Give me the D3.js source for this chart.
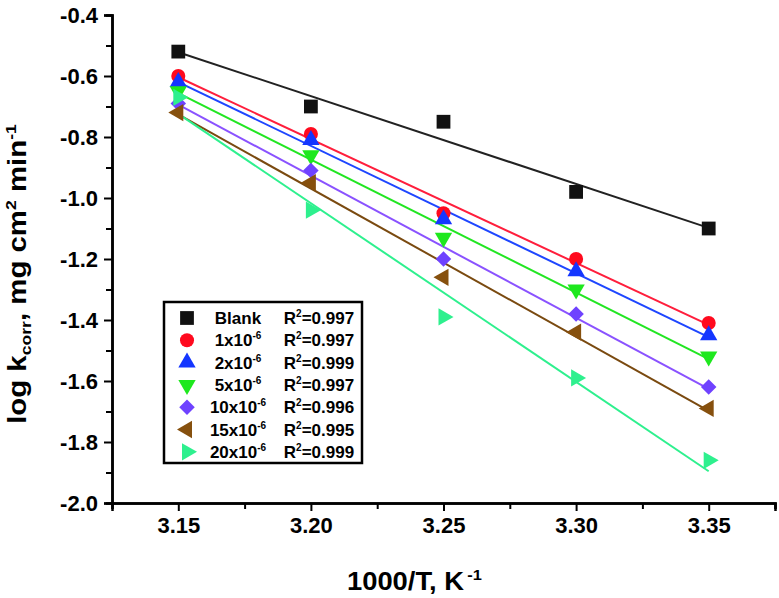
<!DOCTYPE html>
<html>
<head>
<meta charset="utf-8">
<script src="https://cdn.jsdelivr.net/npm/d3@7"></script>
<style>
  html, body { margin: 0; padding: 0; background: #fff; }
  svg { display: block; font-family: "Liberation Sans", Arial, sans-serif; font-weight: bold; }
</style>
</head>
<body>
<svg id="chart" width="779" height="598"></svg>
<script>
// ---- data ----
const xValues = [3.15, 3.20, 3.25, 3.30, 3.35];
const seriesLabels = ["Blank", "1x10", "2x10", "5x10", "10x10", "15x10", "20x10"];
const labelExponents = ["", "-6", "-6", "-6", "-6", "-6", "-6"];
const r2Labels = ["0.997", "0.997", "0.999", "0.997", "0.996", "0.995", "0.999"];
const blank = [-0.52, -0.70, -0.75, -0.98, -1.10];
const c1 = [-0.60, -0.79, -1.05, -1.20, -1.41];
const c2 = [-0.62, -0.81, -1.07, -1.24, -1.45];
const c5 = [-0.65, -0.86, -1.13, -1.30, -1.52];
const c10 = [-0.69, -0.91, -1.20, -1.38, -1.62];
const c15 = [-0.72, -0.95, -1.26, -1.44, -1.69];
const c20 = [-0.67, -1.04, -1.39, -1.59, -1.86];
const xTickValues = [3.15, 3.20, 3.25, 3.30, 3.35];
const yTickValues = [-0.4, -0.6, -0.8, -1.0, -1.2, -1.4, -1.6, -1.8, -2.0];

// ---- styles ----
const colors = ["#111111", "#ff0a1e", "#1436ff", "#1ee81e", "#6f42ff", "#86500e", "#2ef08e"];
const lineColors = ["#222222", "#ff1e3c", "#1e46ff", "#22e622", "#8a52ff", "#7a4a10", "#2ef08e"];
const symbols = [
  {t: d3.symbolSquare, s: 190, r: 0},
  {t: d3.symbolCircle, s: 155, r: 0},
  {t: d3.symbolTriangle, s: 130, r: 0},
  {t: d3.symbolTriangle, s: 130, r: 180},
  {t: d3.symbolSquare, s: 120, r: 45},
  {t: d3.symbolTriangle, s: 130, r: -90},
  {t: d3.symbolTriangle, s: 130, r: 90}
];
const series = [blank, c1, c2, c5, c10, c15, c20];

const svg = d3.select("#chart");
const x = d3.scaleLinear().domain([3.125, 3.375]).range([112, 775]);
const y = d3.scaleLinear().domain([-2.0, -0.4]).range([503, 15]);

// axes
const xAxis = d3.axisBottom(x).tickValues(xTickValues).tickSize(8).tickPadding(6).tickFormat(d => d.toFixed(2));
const xMinor = d3.axisBottom(x).tickValues([3.125, 3.175, 3.225, 3.275, 3.325, 3.375]).tickSize(6).tickFormat("");
const yAxis = d3.axisLeft(y).tickValues(yTickValues).tickSize(8).tickPadding(6).tickFormat(d => d.toFixed(1));
const yMinor = d3.axisLeft(y).tickValues([-0.5, -0.7, -0.9, -1.1, -1.3, -1.5, -1.7, -1.9]).tickSize(6).tickFormat("");

function styleAxis(g) {
  g.select(".domain").attr("stroke", "#000").attr("stroke-width", 2.5);
  g.selectAll(".tick line").attr("stroke", "#000").attr("stroke-width", 2);
  g.selectAll(".tick text").attr("fill", "#000").style("font-size", "22px").style("font-weight", "bold")
    .style("font-family", "'Liberation Sans', Arial, sans-serif");
}
svg.append("g").attr("transform", "translate(0,503)").call(xMinor).call(styleAxis);
svg.append("g").attr("transform", "translate(0,503)").call(xAxis).call(styleAxis);
svg.append("g").attr("transform", "translate(112,0)").call(yMinor).call(styleAxis);
svg.append("g").attr("transform", "translate(112,0)").call(yAxis).call(styleAxis);

// linear fits
function fit(ys) {
  const mx = d3.mean(xValues), my = d3.mean(ys);
  let sxy = 0, sxx = 0;
  xValues.forEach((xv, i) => { sxy += (xv - mx) * (ys[i] - my); sxx += (xv - mx) * (xv - mx); });
  const b = sxy / sxx, a = my - b * mx;
  return xv => a + b * xv;
}
const line = d3.line().x(d => x(d[0])).y(d => y(d[1]));
series.forEach((ys, i) => {
  const f = fit(ys);
  const x0 = xValues[0], x1 = xValues[xValues.length - 1];
  svg.append("path").attr("d", line([[x0, f(x0)], [x1, f(x1)]]))
    .attr("fill", "none").attr("stroke", lineColors[i]).attr("stroke-width", 2);
});

// markers
series.forEach((ys, i) => {
  const sym = d3.symbol().type(symbols[i].t).size(symbols[i].s);
  svg.append("g").selectAll("path").data(ys).join("path")
    .attr("d", sym)
    .attr("transform", (d, j) => `translate(${x(xValues[j])},${y(d)}) rotate(${symbols[i].r})`)
    .attr("fill", colors[i]);
});

// legend
const leg = svg.append("g");
leg.append("rect").attr("x", 164).attr("y", 302).attr("width", 198).attr("height", 161)
  .attr("fill", "#fff").attr("stroke", "#000").attr("stroke-width", 2.5);
seriesLabels.forEach((lab, i) => {
  const cy = 318 + i * 22.3;
  const sym = d3.symbol().type(symbols[i].t).size(symbols[i].s);
  leg.append("path").attr("d", sym).attr("transform", `translate(187,${cy}) rotate(${symbols[i].r})`).attr("fill", colors[i]);
  const t = leg.append("text").attr("x", 238).attr("y", cy + 6).attr("text-anchor", "middle")
    .style("font-size", "17px").attr("fill", "#000");
  t.append("tspan").text(lab);
  if (labelExponents[i]) t.append("tspan").attr("dy", -7).style("font-size", "10px").text(labelExponents[i]);
  const r = leg.append("text").attr("x", 319).attr("y", cy + 6).attr("text-anchor", "middle")
    .style("font-size", "17px").attr("fill", "#000");
  r.append("tspan").text("R");
  r.append("tspan").attr("dy", -7).style("font-size", "10px").text("2");
  r.append("tspan").attr("dy", 7).text("=" + r2Labels[i]);
});

// axis titles
const xt = svg.append("text").attr("x", 0).attr("y", 0).style("font-size", "25px").attr("fill", "#000");
xt.append("tspan").text("1000/T, K");
xt.append("tspan").attr("dy", -10).attr("dx", 3).style("font-size", "15px").text("-1");
{
  const w = xt.node().getBBox().width;
  xt.attr("transform", `translate(347,590) scale(${135 / w},1)`);
}

const yt = svg.append("text").attr("x", 0).attr("y", 0)
  .attr("text-anchor", "middle").style("font-size", "25px").attr("fill", "#000");
yt.append("tspan").text("log k");
yt.append("tspan").attr("dy", 5).style("font-size", "15px").text("corr");
yt.append("tspan").attr("dy", -5).text(", mg cm");
yt.append("tspan").attr("dy", -10).style("font-size", "15px").text("2");
yt.append("tspan").attr("dy", 10).text(" min");
yt.append("tspan").attr("dy", -10).style("font-size", "15px").text("-1");
{
  const w = yt.node().getBBox().width;
  yt.attr("transform", `translate(26,274) rotate(-90) scale(${300 / w},1)`);
}
</script>
</body>
</html>
